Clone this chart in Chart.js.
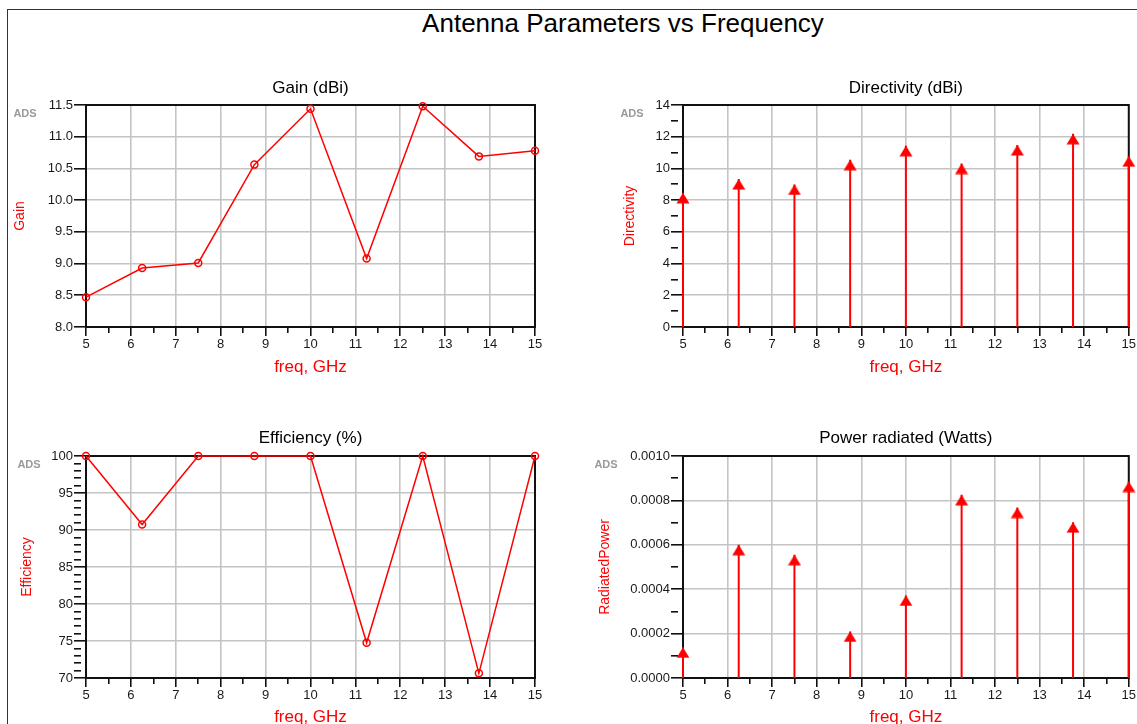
<!DOCTYPE html>
<html>
<head>
<meta charset="utf-8">
<title>Antenna Parameters vs Frequency</title>
<script src="https://cdn.jsdelivr.net/npm/chart.js@4.4.1/dist/chart.umd.min.js"></script>
<style>
    html, body { margin: 0; padding: 0; background: #fff; overflow: hidden; }
    body { width: 1137px; height: 724px; position: relative; font-family: "Liberation Sans", Arial, sans-serif; }
    #frame { position: absolute; left: 7px; top: 9px; width: 1140px; height: 730px; border-left: 1.5px solid #333; border-top: 1.5px solid #333; }
    #mainTitle { position: absolute; left: 623px; top: 10px; transform: translateX(-50%); font-size: 26px; line-height: 26px; color: #000; white-space: nowrap; }
    .ads { position: absolute; font-size: 11px; font-weight: bold; color: #9a9a9a; filter: blur(0.6px); transform: translate(-50%, -50%); }
    .panel { position: absolute; }
</style>
</head>
<body>
<div id="frame"></div>
<div id="mainTitle">Antenna Parameters vs Frequency</div>

<canvas class="panel" id="gainChart" width="560" height="315" style="left:0px;top:70px"></canvas>
<canvas class="panel" id="directivityChart" width="557" height="315" style="left:580px;top:70px"></canvas>
<canvas class="panel" id="efficiencyChart" width="560" height="325" style="left:0px;top:421px"></canvas>
<canvas class="panel" id="powerChart" width="557" height="325" style="left:580px;top:421px"></canvas>

<div class="ads" style="left:25px;top:113px">ADS</div>
<div class="ads" style="left:632px;top:113px">ADS</div>
<div class="ads" style="left:29px;top:464px">ADS</div>
<div class="ads" style="left:606px;top:464px">ADS</div>

<script>
// sweep points (GHz)
const freq = [5, 6.25, 7.5, 8.75, 10, 11.25, 12.5, 13.75, 15];

// results per frequency point
const gain = [8.47, 8.93, 9.01, 10.56, 11.44, 9.08, 11.48, 10.69, 10.78];
const directivity = [8.46, 9.33, 8.99, 10.55, 11.43, 10.31, 11.48, 12.18, 10.77];
const efficiency = [100, 90.73, 100, 100, 100, 74.76, 100, 70.63, 100];
const radiatedPower = [0.000138, 0.0006, 0.000555, 0.00021, 0.000372, 0.000825, 0.000768, 0.000702, 0.000885];

// axis ranges: [min, max, minor step, labelled step]
const freqAxis = [5, 15, 0.5, 1];
const gainAxis = [8, 11.5, 0.5, 0.5];
const directivityAxis = [0, 14, 1, 2];
const efficiencyAxis = [70, 100, 1, 5];
const powerAxis = [0, 0.001, 0.0001, 0.0002];

const RED = '#ff0000';
const FONT = '"Liberation Sans", Arial, sans-serif';
Chart.defaults.font.family = FONT;
Chart.defaults.color = '#1a1a1a';

function isMajor(value, step) {
    const r = value / step;
    return Math.abs(r - Math.round(r)) < 1e-6;
}

// filled arrow head, tip sits at the centre of the image so it lands on the value
function arrowHead() {
    const c = document.createElement('canvas');
    c.width = 14;
    c.height = 22;
    const g = c.getContext('2d');
    g.fillStyle = RED;
    g.beginPath();
    g.moveTo(7, 11);
    g.lineTo(13.5, 21.5);
    g.lineTo(0.5, 21.5);
    g.closePath();
    g.fill();
    return c;
}
const arrow = arrowHead();

// black box round the plot area
const plotBox = {
    id: 'plotBox',
    beforeDatasetsDraw(chart) {
        const a = chart.chartArea;
        const ctx = chart.ctx;
        ctx.save();
        ctx.strokeStyle = '#111';
        ctx.lineWidth = 2;
        ctx.strokeRect(a.left, a.top, a.right - a.left, a.bottom - a.top);
        ctx.restore();
    }
};

function axisGrid(step, majorLen, minorLen) {
    return {
        color: c => isMajor(c.tick.value, step) ? '#c4c4c4' : 'rgba(0,0,0,0)',
        lineWidth: 1.6,
        tickColor: '#111',
        tickWidth: 1.6,
        tickLength: majorLen,
        tickBorderDash: c => isMajor(c.tick.value, step) ? [] : [minorLen, 60]
    };
}

function makeChart(id, opts) {
    const [xMin, xMax, xMinor, xMajor] = freqAxis;
    const [yMin, yMax, yMinor, yMajor] = opts.yAxis;
    new Chart(document.getElementById(id), {
        type: 'line',
        data: { datasets: opts.datasets },
        options: {
            responsive: false,
            animation: false,
            events: [],
            layout: { padding: { left: 0, right: opts.padRight, top: 0, bottom: 0 } },
            plugins: {
                legend: { display: false },
                tooltip: { enabled: false },
                title: {
                    display: true,
                    text: opts.title,
                    color: '#000',
                    fullSize: false,
                    font: { size: 17, weight: 'normal' },
                    padding: opts.titlePad
                }
            },
            scales: {
                x: {
                    type: 'linear',
                    min: xMin,
                    max: xMax,
                    afterFit: s => { s.height = opts.xHeight; },
                    border: { color: '#111', width: 2 },
                    grid: axisGrid(xMajor, 9, 5),
                    ticks: {
                        stepSize: xMinor,
                        autoSkip: false,
                        maxRotation: 0,
                        padding: 1,
                        font: { size: 13 },
                        callback: v => isMajor(v, xMajor) ? String(Math.round(v)) : ''
                    },
                    title: {
                        display: true,
                        text: 'freq, GHz',
                        color: RED,
                        font: { size: 17 },
                        padding: { top: 0, bottom: opts.xTitlePad }
                    }
                },
                y: {
                    type: 'linear',
                    min: yMin,
                    max: yMax,
                    afterFit: s => { s.width = opts.yWidth; },
                    border: { color: '#111', width: 2 },
                    grid: axisGrid(yMajor, 12, 7),
                    ticks: {
                        stepSize: yMinor,
                        autoSkip: false,
                        padding: 1,
                        font: { size: 13 },
                        callback: v => isMajor(v, yMajor) ? v.toFixed(opts.decimals) : ''
                    },
                    title: {
                        display: true,
                        text: opts.yTitle,
                        color: RED,
                        font: { size: 14 },
                        padding: { top: opts.yTitlePad, bottom: 0 }
                    }
                }
            }
        },
        plugins: [plotBox]
    });
}

// connected trace with open circle markers
function traceSet(values) {
    return [{
        data: freq.map((f, i) => ({ x: f, y: values[i] })),
        borderColor: RED,
        borderWidth: 1.5,
        pointRadius: 3.5,
        pointBorderWidth: 1.5,
        pointBorderColor: RED,
        pointBackgroundColor: 'rgba(0,0,0,0)',
        tension: 0,
        clip: false
    }];
}

// stems from zero with an arrow head on each value
function stemSets(values) {
    const stems = [];
    freq.forEach((f, i) => {
        stems.push({ x: f, y: 0 }, { x: f, y: values[i] }, { x: f, y: null });
    });
    return [{
        data: stems,
        borderColor: RED,
        borderWidth: 2,
        pointRadius: 0,
        spanGaps: false,
        clip: false
    }, {
        data: freq.map((f, i) => ({ x: f, y: values[i] })),
        showLine: false,
        pointStyle: arrow,
        pointRadius: 7,
        clip: false
    }];
}

const topTitle = { top: 7.8, bottom: 6.8 };
const bottomTitle = { top: 6.8, bottom: 7.8 };

makeChart('gainChart', {
    title: 'Gain (dBi)', yTitle: 'Gain', yAxis: gainAxis, decimals: 1,
    datasets: traceSet(gain),
    padRight: 25, yWidth: 86, xHeight: 58, titlePad: topTitle, xTitlePad: 7.8, yTitlePad: 11.6
});

makeChart('directivityChart', {
    title: 'Directivity (dBi)', yTitle: 'Directivity', yAxis: directivityAxis, decimals: 0,
    datasets: stemSets(directivity),
    padRight: 7, yWidth: 103, xHeight: 58, titlePad: topTitle, xTitlePad: 7.8, yTitlePad: 41.6
});

makeChart('efficiencyChart', {
    title: 'Efficiency (%)', yTitle: 'Efficiency', yAxis: efficiencyAxis, decimals: 0,
    datasets: traceSet(efficiency),
    padRight: 25, yWidth: 86, xHeight: 68, titlePad: bottomTitle, xTitlePad: 18.8, yTitlePad: 18.6
});

makeChart('powerChart', {
    title: 'Power radiated (Watts)', yTitle: 'RadiatedPower', yAxis: powerAxis, decimals: 4,
    datasets: stemSets(radiatedPower),
    padRight: 7, yWidth: 103, xHeight: 68, titlePad: bottomTitle, xTitlePad: 18.8, yTitlePad: 16.6
});
</script>
</body>
</html>
